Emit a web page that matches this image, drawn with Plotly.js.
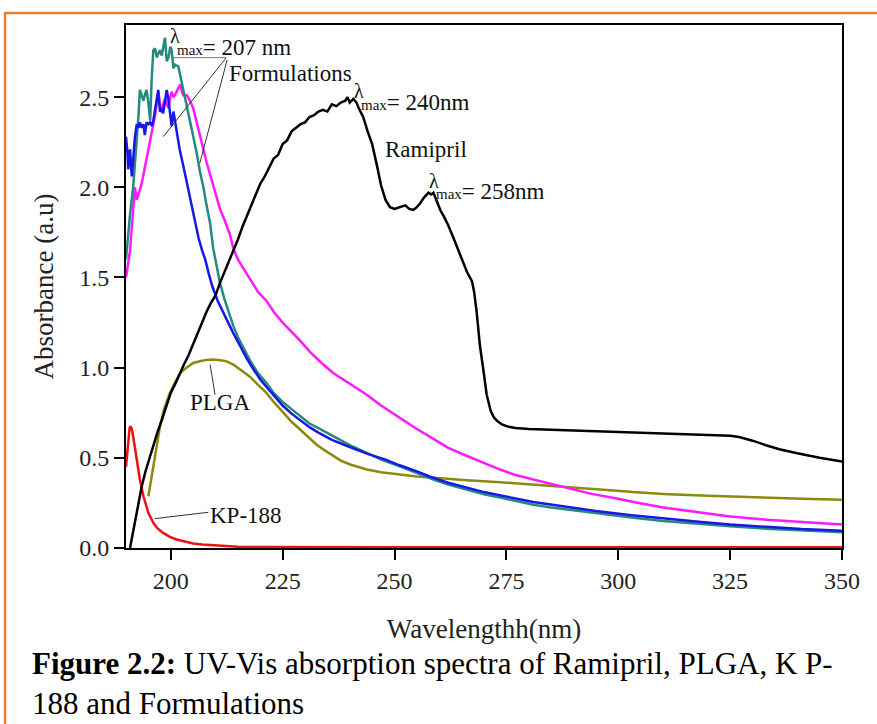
<!DOCTYPE html>
<html>
<head>
<meta charset="utf-8">
<script src="https://cdn.plot.ly/plotly-3.0.1.min.js"></script>
<style>
  html, body { margin: 0; padding: 0; background: #ffffff; }
  #chart { width: 877px; height: 724px; }
</style>
</head>
<body>
<div id="chart"></div>
<script>
// ---------- data ----------
const ramiprilWl = [190.9,191.5,192.2,193,193.5,194.3,195,196,197,198,199,200,201,202,203,204,205,206,207,208,209,210,211,212,213,214,215,216,217,218,219,220,220.5,221,222,223,224,225,226,227,228,229,230,231,232,233,234,235,236,237,238,239,239.5,240,240.8,241.5,242,243,244,245,246,247,248,249,250,251,252.4,253.3,254.2,255,255.7,256.5,257.6,258.2,258.7,259.5,260.3,261,262,263,264,265,266.2,267.3,267.8,268.4,269.1,269.9,270.6,271.5,272.2,272.9,274,275.5,277,280,285,290,295,300,305,310,315,320,325,327,330,333,336,340,345,350];
const ramiprilAbs = [0.0,0.08,0.18,0.28,0.34,0.42,0.48,0.56,0.64,0.71,0.79,0.86,0.91,0.97,1.02,1.07,1.13,1.2,1.26,1.31,1.36,1.40,1.47,1.53,1.58,1.64,1.71,1.78,1.84,1.91,1.96,2.02,2.04,2.06,2.11,2.16,2.18,2.24,2.26,2.31,2.33,2.35,2.36,2.39,2.40,2.42,2.43,2.42,2.46,2.45,2.47,2.48,2.50,2.47,2.49,2.47,2.44,2.39,2.31,2.24,2.13,2.01,1.93,1.89,1.88,1.89,1.90,1.88,1.875,1.89,1.91,1.94,1.97,1.96,1.97,1.92,1.87,1.84,1.79,1.73,1.67,1.61,1.53,1.48,1.42,1.30,1.12,0.98,0.85,0.76,0.725,0.705,0.685,0.672,0.665,0.66,0.656,0.653,0.648,0.643,0.638,0.634,0.63,0.627,0.622,0.615,0.595,0.57,0.548,0.525,0.5,0.48];

const formTealWl = [190,190.4,190.9,191.6,192,192.4,192.8,193.1,193.5,193.9,194.3,194.6,195,195.4,195.7,196.1,196.5,196.9,197.2,197.6,198,198.4,198.7,199.1,199.5,199.9,200.2,200.6,201,201.7,202.2,202.8,203.5,204.3,205,205.8,206.5,207.3,208,208.8,209.5,210.3,211,212,213,214,215,216,217.7,219.5,221.4,223,225,227,228.9,231,233,236.3,240,243.8,247,251.2,255,258.7,262,266.2,270,273.6,277,281,285,288.5,292,296,300,303.4,310,318.3,325,333.2,341,350];
const formTealAbs = [1.60,1.72,1.85,2.00,2.12,2.23,2.40,2.54,2.51,2.48,2.52,2.54,2.47,2.37,2.58,2.76,2.77,2.72,2.74,2.76,2.73,2.80,2.83,2.70,2.72,2.78,2.76,2.66,2.68,2.67,2.60,2.54,2.46,2.37,2.28,2.19,2.09,2.00,1.90,1.80,1.66,1.55,1.47,1.38,1.30,1.23,1.17,1.12,1.04,0.97,0.915,0.86,0.81,0.77,0.73,0.69,0.665,0.62,0.57,0.527,0.49,0.453,0.415,0.38,0.352,0.324,0.298,0.28,0.26,0.24,0.225,0.214,0.2,0.188,0.178,0.168,0.15,0.133,0.12,0.107,0.096,0.087];

const formBlueWl = [190,190.3,190.5,190.9,191.3,191.6,192,192.4,192.8,193.1,193.5,193.9,194.2,194.6,195,195.4,195.8,196.1,196.5,196.9,197.2,197.6,198,198.3,198.7,199.1,199.4,199.7,200,200.2,200.6,201,201.3,202,202.8,203.6,204.5,205.3,206.2,207,207.7,208.5,209.3,210.5,212,214,215.5,217,218.5,220,221.5,223,225,227,229,231,233,236,240,244,248,251,255,258,262,266,270,274,281,288,295,303,310,318,325,333,341,350];
const formBlueAbs = [2.28,2.20,2.10,2.21,2.06,2.17,2.28,2.35,2.33,2.36,2.33,2.35,2.29,2.36,2.35,2.36,2.34,2.37,2.44,2.49,2.54,2.42,2.43,2.41,2.48,2.54,2.50,2.45,2.38,2.34,2.42,2.36,2.29,2.21,2.12,2.03,1.92,1.82,1.72,1.65,1.60,1.52,1.45,1.37,1.29,1.19,1.12,1.05,0.99,0.935,0.89,0.845,0.79,0.745,0.705,0.67,0.64,0.6,0.56,0.522,0.49,0.46,0.425,0.395,0.362,0.334,0.31,0.29,0.255,0.23,0.205,0.182,0.163,0.145,0.13,0.117,0.105,0.096];

const formPinkWl = [190,190.4,190.9,191.3,191.6,192,192.4,192.8,193.1,193.5,193.9,194.3,194.6,195,195.4,195.8,196.1,196.5,196.9,197.2,197.6,198,198.4,198.7,199.1,199.5,199.9,200.2,200.6,200.9,201.5,202.1,202.5,202.8,203.6,204.3,205,205.6,206.2,206.8,207.3,208,208.8,209.8,211,212,213.2,214,215,216,217.7,219.5,221.4,223,225,227,228.9,231,233.5,236.3,240,243.8,247,251.2,255,258.7,262,266.2,270,273.6,277,281,285,288.5,294,299.7,303.4,310,318.3,325,333.2,341,350];
const formPinkAbs = [1.50,1.56,1.65,1.78,1.88,2.00,1.93,1.96,1.98,2.02,2.07,2.12,2.16,2.20,2.27,2.31,2.35,2.40,2.47,2.53,2.46,2.42,2.47,2.49,2.46,2.44,2.50,2.53,2.50,2.51,2.54,2.57,2.53,2.51,2.51,2.48,2.44,2.38,2.31,2.26,2.20,2.14,2.07,1.98,1.88,1.82,1.74,1.66,1.60,1.56,1.49,1.42,1.37,1.31,1.25,1.20,1.15,1.09,1.03,0.97,0.91,0.85,0.79,0.72,0.66,0.605,0.555,0.51,0.47,0.435,0.405,0.38,0.355,0.332,0.3,0.275,0.255,0.225,0.195,0.175,0.157,0.143,0.13];

const plgaWl = [195,195.5,196.1,196.8,197.6,198.5,199.8,201,202.1,203.5,205,206.5,208,209.5,210.5,211.5,212.5,214,215.5,217.7,219.5,221.4,223,225.2,227,228.9,230.7,232.6,234.5,236.3,238,240.1,242,243.8,247,251.2,255,258.7,262,266.2,273.6,281,290,299.7,303.4,310,320,333.2,341,350];
const plgaAbs = [0.287,0.36,0.45,0.56,0.675,0.77,0.86,0.92,0.97,1.00,1.026,1.035,1.043,1.045,1.044,1.04,1.035,1.017,0.99,0.95,0.905,0.86,0.81,0.75,0.70,0.657,0.615,0.573,0.54,0.51,0.485,0.463,0.447,0.435,0.42,0.407,0.397,0.389,0.382,0.376,0.365,0.352,0.338,0.318,0.31,0.3,0.29,0.278,0.273,0.268];

const kpWl = [190,190.3,190.5,190.8,191,191.3,191.6,192,192.4,193.1,193.9,195,196.1,197,198.3,199.8,201.3,203,205,207,209.5,212,215,220,230,250,275,300,325,350];
const kpAbs = [0.45,0.55,0.62,0.665,0.675,0.66,0.62,0.555,0.49,0.38,0.287,0.195,0.14,0.11,0.084,0.062,0.047,0.035,0.025,0.019,0.014,0.01,0.007,0.005,0.004,0.004,0.004,0.004,0.004,0.004];

const xTickVals = [200,225,250,275,300,325,350];
const yTickVals = [0,0.5,1.0,1.5,2.0,2.5];

// ---------- chart ----------
const FONT = 'Liberation Serif, Times New Roman, serif';
const LW = 2.5;
function line(x, y, color) {
  return { x: x, y: y, type: 'scatter', mode: 'lines', line: { color: color, width: LW }, hoverinfo: 'skip' };
}
const traces = [
  line(plgaWl, plgaAbs, '#8a8a0e'),
  line(kpWl, kpAbs, '#ee1111'),
  line(formPinkWl, formPinkAbs, '#ff1aff'),
  line(formTealWl, formTealAbs, '#26897f'),
  line(formBlueWl, formBlueAbs, '#1717e6'),
  line(ramiprilWl, ramiprilAbs, '#000000')
];

function ann(x, y, text, xanchor, size) {
  return { x: x, y: y, xref: 'x', yref: 'y', text: text, showarrow: false,
    xanchor: xanchor || 'center', yanchor: 'middle', borderpad: 0,
    font: { family: FONT, size: size || 23, color: '#111' } };
}
const rest = (v) => "<span style='font-size:15px'>max</span>= " + v;

const annotations = [
  ann(200.95, 2.837, 'λ', 'center', 20),
  ann(201.1, 2.773, rest('207 nm'), 'left'),
  ann(212.8, 2.63, 'Formulations', 'left'),
  ann(242.08, 2.535, 'λ', 'center', 20),
  ann(242.3, 2.468, rest('240nm'), 'left'),
  ann(257.1, 2.21, 'Ramipril', 'center'),
  ann(258.84, 2.036, 'λ', 'center', 20),
  ann(259.1, 1.975, rest('258nm'), 'left'),
  ann(211.0, 0.806, 'PLGA', 'center'),
  ann(208.6, 0.18, 'KP-188', 'left'),
  { x: -0.134, y: -0.259, xref: 'paper', yref: 'paper', showarrow: false,
    xanchor: 'left', yanchor: 'middle', align: 'left',
    text: '<b>Figure 2.2:</b> UV-Vis absorption spectra of Ramipril, PLGA, K P-<br>188 and Formulations',
    font: { family: FONT, size: 31, color: '#000' } }
];

function seg(x0, y0, x1, y1, color) {
  return { type: 'line', xref: 'x', yref: 'y', x0: x0, y0: y0, x1: x1, y1: y1,
    line: { color: color || '#333', width: 1 } };
}
const shapes = [
  seg(200.5, 2.719, 212.35, 2.719, '#777'),
  seg(212.35, 2.717, 198.34, 2.281),
  seg(212.6, 2.706, 206.5, 2.134),
  seg(208.8, 1.017, 209.9, 0.85),
  seg(196.5, 0.163, 208.4, 0.198),
  { type: 'rect', xref: 'paper', yref: 'paper', x0: -0.169, y0: -0.6, x1: 1.3, y1: 1.0229,
    line: { color: '#ED7D31', width: 2.5 }, fillcolor: 'rgba(0,0,0,0)', layer: 'below' }
];

const layout = {
  width: 877, height: 724,
  margin: { l: 126, r: 35, t: 25, b: 176 },
  paper_bgcolor: '#ffffff', plot_bgcolor: '#ffffff',
  showlegend: false,
  font: { family: FONT, color: '#000' },
  xaxis: {
    range: [190, 350], tickvals: xTickVals, ticks: 'outside', ticklen: 10, tickwidth: 2, tickcolor: '#000',
    showline: true, linewidth: 2, linecolor: '#000', mirror: true, showgrid: false, zeroline: false,
    tickfont: { family: FONT, size: 24, color: '#222' },
    title: { text: 'Wavelengthh(nm)', font: { family: FONT, size: 27, color: '#222' }, standoff: 26 }
  },
  yaxis: {
    range: [0, 2.9], tickvals: yTickVals, tickformat: '.1f', ticks: 'outside', ticklen: 10, tickwidth: 2, tickcolor: '#000',
    showline: true, linewidth: 2, linecolor: '#000', mirror: true, showgrid: false, zeroline: false,
    tickfont: { family: FONT, size: 24, color: '#222' },
    title: { text: 'Absorbance (a.u)', font: { family: FONT, size: 27, color: '#222' }, standoff: 18 }
  },
  annotations: annotations,
  shapes: shapes
};

Plotly.newPlot('chart', traces, layout, { displayModeBar: false, staticPlot: true });
</script>
</body>
</html>
